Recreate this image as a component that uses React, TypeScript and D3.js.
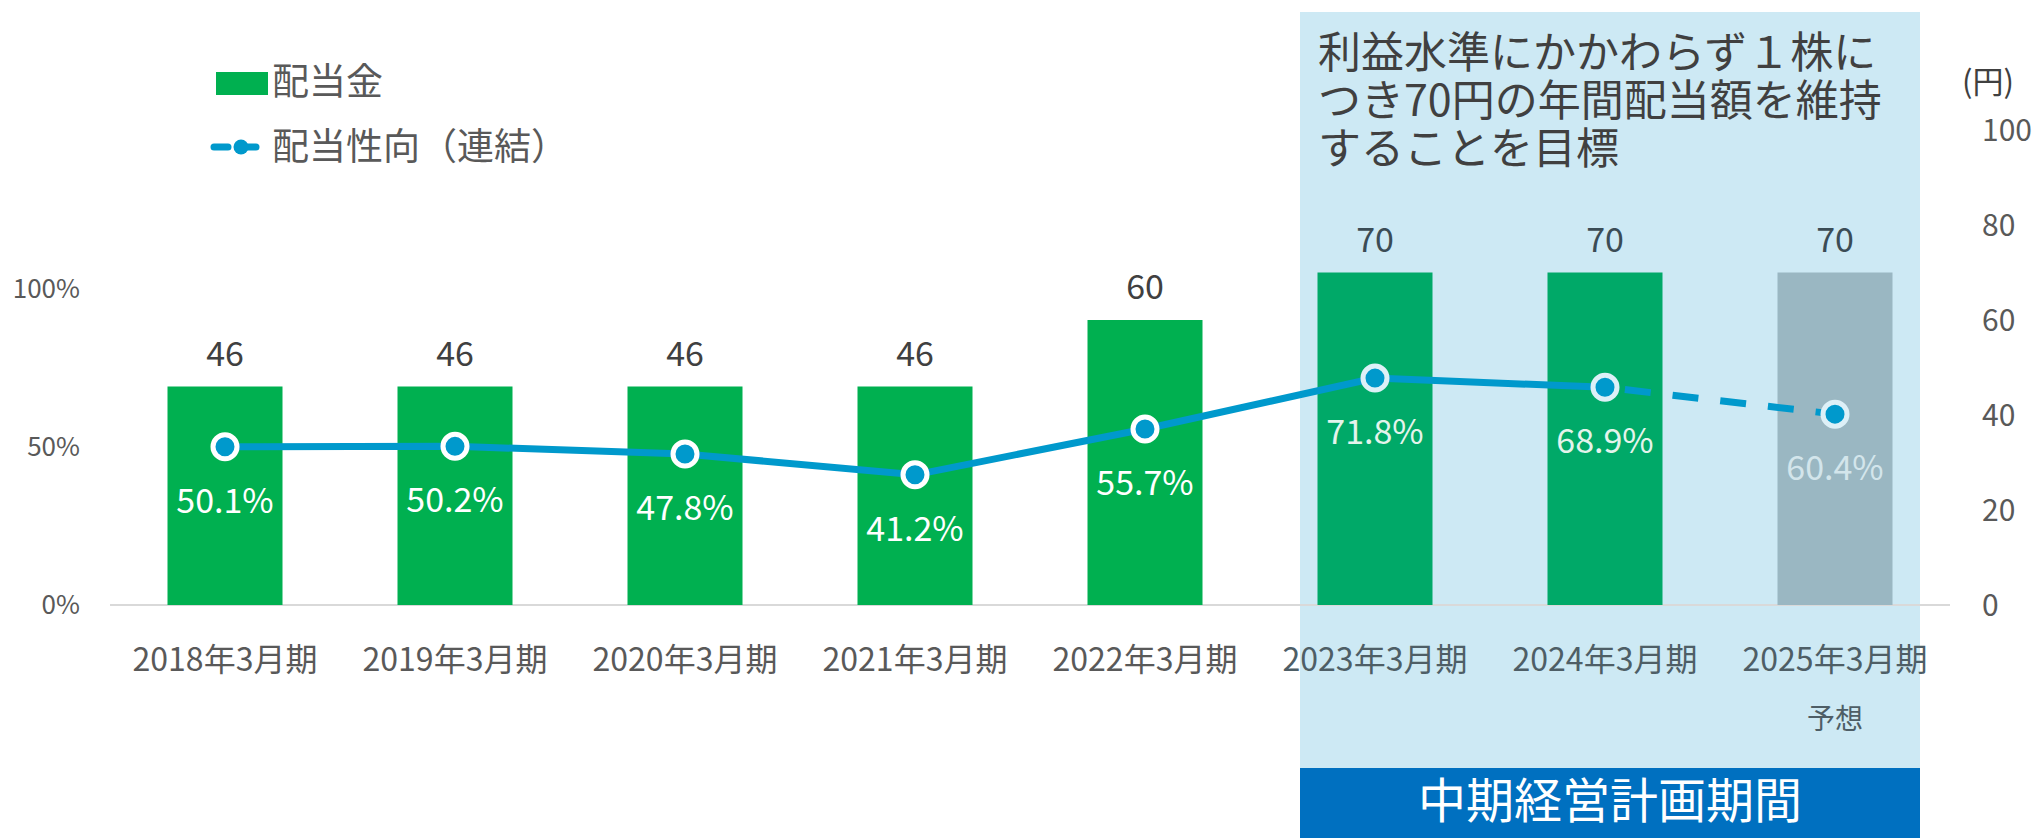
import React from 'react';
import * as d3 from 'd3';

const categories = ['2018年3月期', '2019年3月期', '2020年3月期', '2021年3月期', '2022年3月期', '2023年3月期', '2024年3月期', '2025年3月期'];
const dividends = [46, 46, 46, 46, 60, 70, 70, 70];
const payoutRatio = [50.1, 50.2, 47.8, 41.2, 55.7, 71.8, 68.9, 60.4];
const leftTicks = [0, 50, 100];
const rightTicks = [0, 20, 40, 60, 80, 100];
const planStart = 5; // 中期経営計画期間 starts at 2023
const forecastIndex = 7;
const titleLines = ['利益水準にかかわらず１株に', 'つき70円の年間配当額を維持', 'することを目標'];

const W = 2037;
const H = 838;
const FONT = '"Noto Sans CJK JP", "Noto Sans", sans-serif';

const App = () => {
    const x = d3.scaleBand<string>()
        .domain(categories)
        .range([110, 1950])
        .paddingInner(0.5)
        .paddingOuter(0.25);
    const yL = d3.scaleLinear().domain([0, 100]).range([605, 289]);
    const yR = d3.scaleLinear().domain([0, 100]).range([605, 130]);
    const cx = (i: number) => (x(categories[i]) ?? 0) + x.bandwidth() / 2;

    const line = d3.line<number>()
        .x((d, i) => cx(i))
        .y(d => yL(d));
    const solidPts = payoutRatio.slice(0, forecastIndex);
    const dashed = d3.line<number>()
        .x((d, i) => cx(forecastIndex - 1 + i))
        .y(d => yL(d));

    const hlLeft = (x(categories[planStart]) ?? 0) - x.step() * 0.25 + 40;
    const hlRight = (x(categories[forecastIndex]) ?? 0) + x.bandwidth() + x.step() * 0.25 - 30;

    const barColor = (i: number) => i === forecastIndex ? '#9AB7C2' : i >= planStart ? '#00A968' : '#00B050';

    return (
        <div style={{ position: 'absolute', left: 0, top: 0 }}>
            <svg width={W} height={H} style={{ display: 'block', fontFamily: FONT }}>
                <rect x={0} y={0} width={W} height={H} fill="#fff" />
                {/* highlight for plan period */}
                <rect x={hlLeft} y={12} width={hlRight - hlLeft} height={H - 12} fill="#CDE9F4" />
                <rect x={hlLeft} y={768} width={hlRight - hlLeft} height={H - 768} fill="#0070C0" />
                <text x={(hlLeft + hlRight) / 2} y={818} textAnchor="middle" fill="#fff" fontSize={48}>中期経営計画期間</text>
                {titleLines.map((t, i) => (
                    <text key={t} x={hlLeft + 18} y={68 + i * 48} fill="#404040" fontSize={43}>{t}</text>
                ))}

                {/* legend */}
                <rect x={216} y={72} width={52} height={23} fill="#00B050" />
                <text x={272} y={95} fill="#595959" fontSize={37}>配当金</text>
                <line x1={214} x2={270} y1={147} y2={147} stroke="#0099CC" strokeWidth={7} strokeDasharray="14 14" strokeLinecap="round" />
                <circle cx={241} cy={147} r={7.5} fill="#0099CC" />
                <text x={272} y={160} fill="#595959" fontSize={37}>配当性向（連結）</text>

                {/* axis baseline */}
                <line x1={110} x2={1950} y1={605} y2={605} stroke="#D9D9D9" strokeWidth={2} />

                {/* left axis */}
                {leftTicks.map(t => (
                    <text key={t} x={80} y={yL(t)} dy="0.35em" textAnchor="end" fill="#595959" fontSize={26}>{t}%</text>
                ))}
                {/* right axis */}
                {rightTicks.map(t => (
                    <text key={t} x={1982} y={yR(t)} dy="0.35em" textAnchor="start" fill="#595959" fontSize={30}>{t}</text>
                ))}
                <text x={1962} y={82} dy="0.35em" fill="#404040" fontSize={31}>(円)</text>

                {/* bars */}
                {dividends.map((d, i) => (
                    <g key={categories[i]}>
                        <rect x={x(categories[i])} y={yR(d)} width={x.bandwidth()} height={yR(0) - yR(d)} fill={barColor(i)} />
                        <text x={cx(i)} y={yR(d) - 21} textAnchor="middle" fill={i >= planStart ? '#3B4C55' : '#404040'} fontSize={34}>{d}</text>
                    </g>
                ))}

                {/* category labels */}
                {categories.map((c, i) => (
                    <text key={c} x={cx(i)} y={660} dy="0.35em" textAnchor="middle" fill={i >= planStart ? '#4E5E66' : '#595959'} fontSize={32}>{c}</text>
                ))}
                <text x={cx(forecastIndex)} y={719} dy="0.35em" textAnchor="middle" fill="#4E5E66" fontSize={28}>予想</text>

                {/* payout ratio line */}
                <path d={line(solidPts) ?? ''} fill="none" stroke="#0099CC" strokeWidth={7} />
                <path d={dashed(payoutRatio.slice(forecastIndex - 1)) ?? ''} fill="none" stroke="#0099CC" strokeWidth={7} strokeDasharray="26 22" strokeDashoffset={-20} />
                {payoutRatio.map((v, i) => (
                    <g key={'p' + i}>
                        <circle cx={cx(i)} cy={yL(v)} r={12} fill="#0099CC" stroke={i >= planStart ? '#DDF0F7' : '#fff'} strokeWidth={5} />
                        <text x={cx(i)} y={yL(v) + 54} dy="0.35em" textAnchor="middle" fill={i === forecastIndex ? '#D3E5EB' : i >= planStart ? '#E4F4EC' : '#fff'} fontSize={34}>{v.toFixed(1)}%</text>
                    </g>
                ))}
            </svg>
        </div>
    );
};

export default App;
